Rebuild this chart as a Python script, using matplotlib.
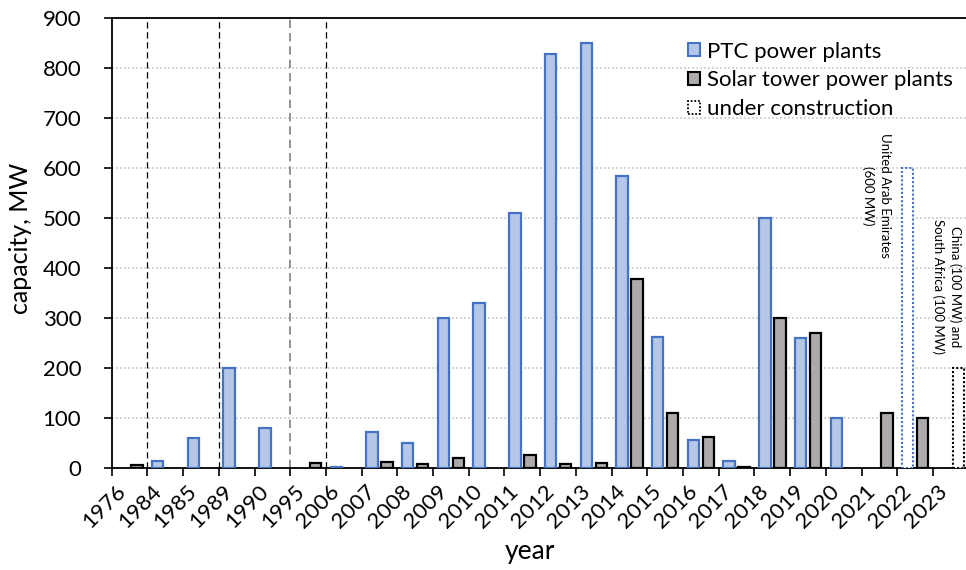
import numpy as np
import matplotlib
matplotlib.use("Agg")
import matplotlib.pyplot as plt
from matplotlib.patches import Patch

plt.rcParams['font.family'] = ['Lato', 'DejaVu Sans']

# Categories on the horizontal axis
years = ["1976", "1984", "1985", "1989", "1990", "1995", "2006", "2007", "2008",
         "2009", "2010", "2011", "2012", "2013", "2014", "2015", "2016", "2017",
         "2018", "2019", "2020", "2021", "2022", "2023"]

# Commissioned capacity per year, MW
ptc_mw = [0, 14, 60, 200, 80, 0, 1, 72, 50, 300, 330, 510, 828, 850, 584, 262,
          56, 13, 500, 260, 100, 0, 0, 0]
tower_mw = [5, 0, 0, 0, 0, 10, 0, 11, 8, 20, 0, 26, 8, 10, 377, 110, 61, 2,
            300, 270, 0, 110, 100, 0]

# Capacity under construction, MW
ptc_building_mw = [0] * 22 + [600, 0]
tower_building_mw = [0] * 23 + [200]

# Category boundaries where the time axis is broken
break_black = [0.5, 2.5, 5.5]
break_grey = [4.5]

PTC_FILL, PTC_EDGE = "#b4c7e7", "#4472c4"
TOWER_FILL, TOWER_EDGE = "#aeaaaa", "#000000"

W, H = 966, 570
fig = plt.figure(figsize=(W / 100, H / 100), dpi=100)
ax = fig.add_axes([111.7 / W, (H - 467.7) / H, 857 / W, 450 / H])

x = np.arange(len(years))
off = 0.21
bw = 0.32


def draw(values, dx, **kw):
    v = np.asarray(values, dtype=float)
    m = v > 0
    ax.bar(x[m] + dx, v[m], width=bw, zorder=3, **kw)


draw(ptc_mw, -off, color=PTC_FILL, edgecolor=PTC_EDGE, linewidth=1.6)
draw(tower_mw, off, color=TOWER_FILL, edgecolor=TOWER_EDGE, linewidth=1.6)
draw(ptc_building_mw, -off, color="white", edgecolor=PTC_EDGE, linewidth=1.5,
     linestyle=(0, (1, 1)))
draw(tower_building_mw, off, color="white", edgecolor=TOWER_EDGE, linewidth=1.5,
     linestyle=(0, (1, 1)))

for b in break_black:
    ax.axvline(b, color="black", linewidth=0.9, linestyle=(0, (5, 3)), zorder=2)
for b in break_grey:
    ax.axvline(b, color="#7f7f7f", linewidth=1.2, linestyle=(0, (5, 3)), zorder=2)

ax.set_xlim(-0.5, len(years) - 0.5)
ax.set_ylim(0, 900)
ax.set_yticks(np.arange(0, 901, 100))
ax.yaxis.grid(True, color="#d0d0d0", linewidth=1.2, linestyle=(0, (1.2, 1.2)), zorder=0)
ax.set_axisbelow(True)

# Ticks at category boundaries, labels at category centres
ax.set_xticks(np.arange(-0.5, len(years), 1.0))
ax.set_xticklabels([])
ax.set_xticks(x, minor=True)
ax.set_xticklabels(years, minor=True, rotation=45, ha="right", va="top",
                   rotation_mode="default", fontsize=16)
ax.tick_params(axis="x", which="minor", length=0, pad=10)
ax.tick_params(axis="x", which="major", direction="out", length=6, width=1.2)
ax.tick_params(axis="y", direction="out", length=6, width=1.2, labelsize=16, pad=16)

for s in ["left", "bottom", "top"]:
    ax.spines[s].set_linewidth(1.3)
    ax.spines[s].set_color("black")
ax.spines["right"].set_visible(False)

ax.set_ylabel("capacity, MW", fontsize=18)
ax.yaxis.set_label_coords(-0.093, 0.51)
ax.set_xlabel("year", fontsize=19)
ax.xaxis.set_label_coords(0.488, -0.158)

handles = [
    Patch(facecolor=PTC_FILL, edgecolor=PTC_EDGE, linewidth=1.5),
    Patch(facecolor=TOWER_FILL, edgecolor=TOWER_EDGE, linewidth=1.5),
    Patch(facecolor="white", edgecolor="black", linewidth=1.3, linestyle=(0, (1, 1))),
]
ax.legend(handles, ["PTC power plants", "Solar tower power plants", "under construction"],
          loc="upper left", bbox_to_anchor=(0.6725, 0.947), frameon=False,
          fontsize=16, handlelength=0.55, handleheight=0.55, handletextpad=0.3,
          labelspacing=0.4, borderpad=0, borderaxespad=0)

ax.text(20.92, 544, "United Arab Emirates\n(600 MW)", rotation=270, ha="center",
        va="center", multialignment="center", fontsize=9.5, linespacing=1.45)
ax.text(22.88, 362, "China (100 MW) and\nSouth Africa (100 MW)", rotation=270,
        ha="center", va="center", multialignment="center", fontsize=9.5, linespacing=1.45)

fig.savefig("out.png", dpi=100)
